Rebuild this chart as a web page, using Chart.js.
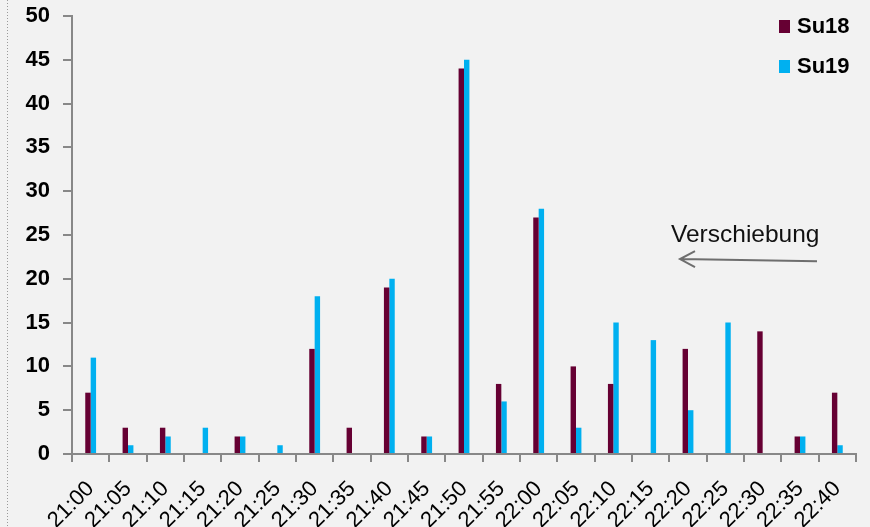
<!DOCTYPE html>
<html>
<head>
<meta charset="utf-8">
<script src="https://cdn.jsdelivr.net/npm/chart.js@4/dist/chart.umd.min.js"></script>
<style>
  html, body { margin: 0; padding: 0; background: #f2f2f2; }
  #wrap { width: 870px; height: 527px; position: relative; }
</style>
</head>
<body>
<div id="wrap"><canvas id="c" width="870" height="527"></canvas></div>
<script>
// Arrival counts per 5-minute slot
const categories = ['21:00','21:05','21:10','21:15','21:20','21:25','21:30','21:35','21:40','21:45','21:50',
                    '21:55','22:00','22:05','22:10','22:15','22:20','22:25','22:30','22:35','22:40'];
const su18 = [7, 3, 3, 0, 2, 0, 12, 3, 19, 2, 44, 8, 27, 10, 8, 0, 12, 0, 14, 2, 7];
const su19 = [11, 1, 2, 3, 2, 1, 18, 0, 20, 2, 45, 6, 28, 3, 15, 13, 5, 15, 0, 2, 1];
const yTicks = [0, 5, 10, 15, 20, 25, 30, 35, 40, 45, 50];
const seriesNames = ['Su18', 'Su19'];
const noteText = 'Verschiebung';

const AXIS = '#888888';

// Page frame: dotted rule on the left edge
const framePlugin = {
  id: 'frame',
  beforeDraw(chart) {
    const ctx = chart.ctx;
    ctx.save();
    ctx.strokeStyle = '#9a9a9a';
    ctx.lineWidth = 1;
    ctx.setLineDash([1, 2]);
    ctx.beginPath();
    ctx.moveTo(7.5, 0);
    ctx.lineTo(7.5, chart.height);
    ctx.stroke();
    ctx.restore();
  }
};

// Legend stacked in the upper right corner of the plot
const legendPlugin = {
  id: 'cornerLegend',
  afterDraw(chart) {
    const ctx = chart.ctx;
    ctx.save();
    ctx.font = 'bold 22px "Liberation Sans", Arial, sans-serif';
    ctx.textBaseline = 'middle';
    chart.data.datasets.forEach((ds, i) => {
      const y = 26 + i * 40;
      ctx.fillStyle = ds.backgroundColor;
      ctx.fillRect(779, y - 6, 11, 13);
      ctx.fillStyle = '#000';
      ctx.fillText(ds.label, 797, y + 1);
    });
    ctx.restore();
  }
};

// "Verschiebung" note with a leftward arrow
const notePlugin = {
  id: 'note',
  afterDraw(chart) {
    const ctx = chart.ctx;
    const ys = chart.scales.y;
    ctx.save();
    ctx.font = '24.5px "Liberation Sans", Arial, sans-serif';
    ctx.fillStyle = '#111';
    ctx.textBaseline = 'alphabetic';
    ctx.fillText(noteText, 671, ys.getPixelForValue(24.2));
    const yR = ys.getPixelForValue(22.0);
    const yL = ys.getPixelForValue(22.25);
    ctx.strokeStyle = '#6e6e6e';
    ctx.lineWidth = 2;
    ctx.beginPath();
    ctx.moveTo(817, yR);
    ctx.lineTo(680, yL);
    ctx.moveTo(695, yL - 8);
    ctx.lineTo(680, yL);
    ctx.lineTo(695, yL + 8);
    ctx.stroke();
    ctx.restore();
  }
};

new Chart(document.getElementById('c'), {
  type: 'bar',
  data: {
    labels: categories,
    datasets: [
      { label: seriesNames[0], data: su18, backgroundColor: '#660033', borderWidth: 0 },
      { label: seriesNames[1], data: su19, backgroundColor: '#00b0f0', borderWidth: 0 }
    ]
  },
  options: {
    responsive: false,
    animation: false,
    devicePixelRatio: 1,
    layout: { padding: { left: 0, top: 16, right: 14, bottom: 0 } },
    datasets: { bar: { categoryPercentage: 0.29, barPercentage: 1.0 } },
    plugins: {
      legend: { display: false },
      title: { display: false },
      tooltip: { enabled: false }
    },
    scales: {
      x: {
        offset: true,
        grid: { display: true, drawOnChartArea: false, drawTicks: true, tickLength: 8, color: AXIS, lineWidth: 2, offset: true },
        border: { display: true, color: AXIS, width: 2 },
        ticks: {
          color: '#000',
          font: { family: '"Liberation Sans", Arial, sans-serif', size: 22 },
          minRotation: 45, maxRotation: 45, autoSkip: false, padding: 14
        },
        afterFit(scale) {
          scale.height = 73;
          scale.paddingLeft = 0;
          scale.paddingRight = 0;
        }
      },
      y: {
        min: 0, max: 50,
        afterBuildTicks(scale) { scale.ticks = yTicks.map(v => ({ value: v })); },
        grid: { display: true, drawOnChartArea: false, drawTicks: true, tickLength: 9, color: AXIS, lineWidth: 2 },
        border: { display: true, color: AXIS, width: 2 },
        ticks: {
          color: '#000',
          font: { family: '"Liberation Sans", Arial, sans-serif', size: 22, weight: 'bold' },
          padding: 13
        },
        afterFit(scale) {
          scale.width = 72;
          scale.paddingTop = 0;
          scale.paddingBottom = 0;
        }
      }
    }
  },
  plugins: [framePlugin, legendPlugin, notePlugin]
});
</script>
</body>
</html>
